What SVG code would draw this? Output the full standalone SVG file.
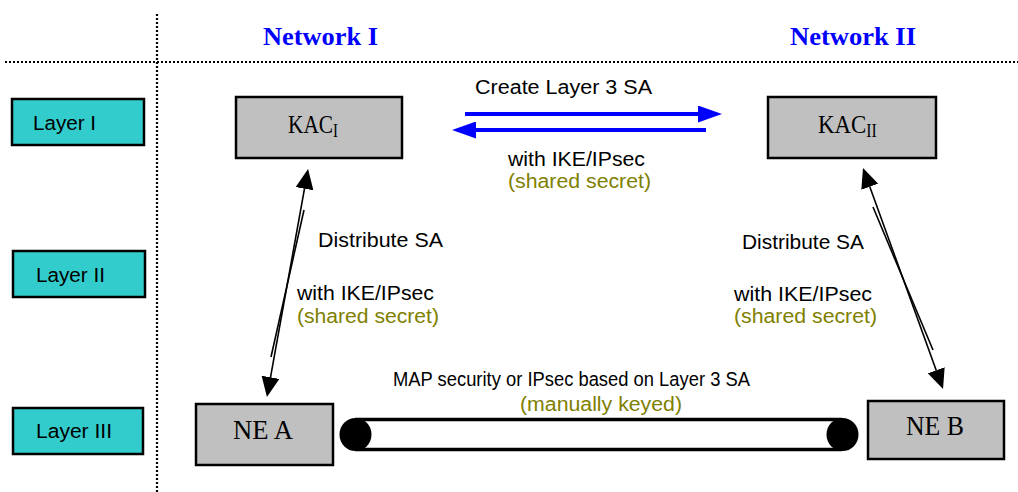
<svg xmlns="http://www.w3.org/2000/svg" width="1018" height="492" viewBox="0 0 1018 492">
<defs>
<style>
.sans{font-family:"Liberation Sans",Arial,sans-serif;font-size:20px;fill:#000}
.olive{fill:#808000}
.serif{font-family:"Liberation Serif","Times New Roman",serif;fill:#000}
.net{font-family:"Liberation Serif","Times New Roman",serif;font-weight:bold;font-size:25px;fill:#0000FF}
.layer{fill:#33CCCC;stroke:#000;stroke-width:2.5}
.node{fill:#C0C0C0;stroke:#000;stroke-width:2.5}
.dots{stroke:#000;stroke-width:2.2;stroke-dasharray:2 2;fill:none}
.blue{stroke:#0000FF;stroke-width:4;fill:none}
.blk{stroke:#000;stroke-width:1.6;fill:none}
</style>
<marker id="ab" markerUnits="userSpaceOnUse" markerWidth="24" markerHeight="17" refX="0" refY="8.5" orient="auto">
<path d="M0,0 L24,8.5 L0,17 z" fill="#0000FF"/>
</marker>
<marker id="ak" markerUnits="userSpaceOnUse" markerWidth="20" markerHeight="18" refX="0" refY="9" orient="auto-start-reverse">
<path d="M0,0 L20,9 L0,18 z" fill="#000"/>
</marker>
</defs>
<rect width="1018" height="492" fill="#fff"/>

<g id="grid">
<line class="dots" x1="157" y1="14" x2="157" y2="492"/>
<line class="dots" x1="5" y1="62" x2="1018" y2="62"/>
<text class="net" x="263" y="45" textLength="115" lengthAdjust="spacingAndGlyphs">Network I</text>
<text class="net" x="790" y="45" textLength="126" lengthAdjust="spacingAndGlyphs">Network II</text>
</g>

<g id="layer1"><rect class="layer" x="12" y="99" width="132" height="46"/><text class="sans" x="33" y="130" textLength="63" lengthAdjust="spacingAndGlyphs">Layer I</text></g>
<g id="layer2"><rect class="layer" x="13" y="251" width="132" height="46"/><text class="sans" x="36" y="282" textLength="69" lengthAdjust="spacingAndGlyphs">Layer II</text></g>
<g id="layer3"><rect class="layer" x="13" y="408" width="130" height="46"/><text class="sans" x="36" y="438" textLength="76" lengthAdjust="spacingAndGlyphs">Layer III</text></g>

<g id="kac1"><rect class="node" x="236" y="97" width="166" height="61"/><text class="serif" transform="translate(288,133) scale(0.82,1)" font-size="26">KAC<tspan font-size="18" dy="4">I</tspan></text></g>
<g id="kac2"><rect class="node" x="768" y="97" width="168" height="61"/><text class="serif" transform="translate(818,133) scale(0.88,1)" font-size="26">KAC<tspan font-size="18" dy="4">II</tspan></text></g>
<g id="nea"><rect class="node" x="196" y="404" width="137" height="61"/><text class="serif" x="233" y="439" font-size="27" textLength="60" lengthAdjust="spacingAndGlyphs">NE A</text></g>
<g id="neb"><rect class="node" x="868" y="401" width="136" height="58"/><text class="serif" x="906" y="435" font-size="27" textLength="58" lengthAdjust="spacingAndGlyphs">NE B</text></g>

<g id="connectors">
<line class="blue" x1="465" y1="114" x2="698" y2="114" marker-end="url(#ab)"/>
<line class="blue" x1="706" y1="130" x2="476" y2="130" marker-end="url(#ab)"/>
<line class="blk" x1="304.5" y1="188.7" x2="270.5" y2="377.3" marker-start="url(#ak)" marker-end="url(#ak)"/>
<line class="blk" x1="304" y1="210" x2="271" y2="357"/>
<line class="blk" x1="869.8" y1="186.8" x2="936.2" y2="370.2" marker-start="url(#ak)" marker-end="url(#ak)"/>
<line class="blk" x1="873" y1="207" x2="933" y2="350"/>
<g id="tube">
<rect x="355" y="419.5" width="487" height="30" fill="#fff"/>
<line x1="355" y1="419.5" x2="842" y2="419.5" stroke="#000" stroke-width="3.5"/>
<line x1="355" y1="449.5" x2="842" y2="449.5" stroke="#000" stroke-width="3.5"/>
<ellipse cx="355.5" cy="434.5" rx="16" ry="16.5" fill="#000"/>
<ellipse cx="842.5" cy="434.5" rx="16" ry="16.5" fill="#000"/>
</g>
</g>

<g id="labels">
<text class="sans" x="475" y="94" textLength="177" lengthAdjust="spacingAndGlyphs">Create Layer 3 SA</text>
<text class="sans" x="508" y="166" textLength="137" lengthAdjust="spacingAndGlyphs">with IKE/IPsec</text>
<text class="sans olive" x="508" y="188" textLength="143" lengthAdjust="spacingAndGlyphs">(shared secret)</text>
<text class="sans" x="318" y="247" textLength="125" lengthAdjust="spacingAndGlyphs">Distribute SA</text>
<text class="sans" x="297" y="300" textLength="137" lengthAdjust="spacingAndGlyphs">with IKE/IPsec</text>
<text class="sans olive" x="297" y="323" textLength="142" lengthAdjust="spacingAndGlyphs">(shared secret)</text>
<text class="sans" x="742" y="249" textLength="122" lengthAdjust="spacingAndGlyphs">Distribute SA</text>
<text class="sans" x="734" y="301" textLength="138" lengthAdjust="spacingAndGlyphs">with IKE/IPsec</text>
<text class="sans olive" x="734" y="323" textLength="143" lengthAdjust="spacingAndGlyphs">(shared secret)</text>
<text class="sans" x="393" y="386" textLength="357" lengthAdjust="spacingAndGlyphs">MAP security or IPsec based on Layer 3 SA</text>
<text class="sans olive" x="520" y="411" textLength="162" lengthAdjust="spacingAndGlyphs">(manually keyed)</text>
</g>
</svg>
